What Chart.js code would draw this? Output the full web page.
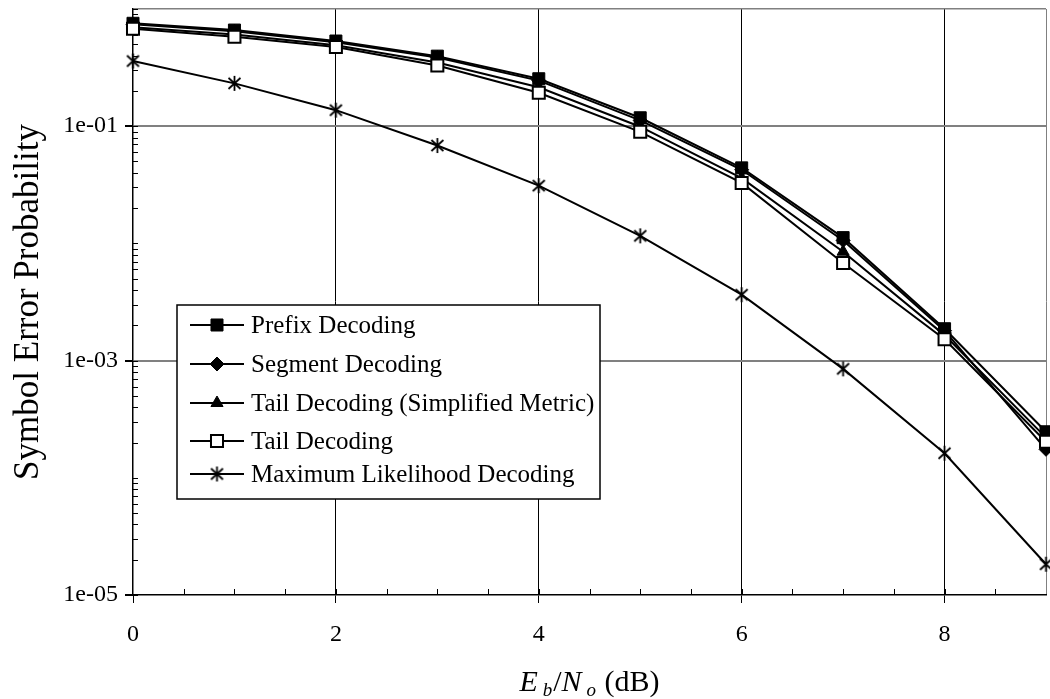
<!DOCTYPE html>
<html>
<head>
<meta charset="utf-8">
<script src="https://cdn.jsdelivr.net/npm/chart.js@4.4.1/dist/chart.umd.min.js"></script>
<style>
  body { margin: 0; background: #fff; }
  #wrap { position: relative; width: 1050px; height: 699px; }
  #xTitle {
    position: absolute; left: 133px; width: 913px; top: 664px;
    text-align: center; font: 30px "Liberation Serif", serif; line-height: 34px; color: #000;
  }
  #xTitle sub { font-size: 19px; vertical-align: -5px; margin-left: 5px; margin-right: 1px; }
</style>
</head>
<body>
<div id="wrap">
  <canvas id="chart" width="1050" height="699"></canvas>
  <div id="xTitle"><i>E</i><sub><i>b</i></sub>/<i>N</i><sub><i>o</i></sub> (dB)</div>
</div>
<script>
// Eb/No in dB
const snr = [0, 1, 2, 3, 4, 5, 6, 7, 8, 9];

// symbol error probability per decoder
const prefixSer = [0.755, 0.661, 0.533, 0.396, 0.254, 0.118, 0.0441, 0.0112, 0.00187, 2.47e-4];
const segmentSer = [0.74, 0.645, 0.52, 0.385, 0.245, 0.112, 0.0425, 0.0106, 0.00180, 1.75e-4];
const tailSimplifiedSer = [0.70, 0.605, 0.49, 0.35, 0.215, 0.099, 0.036, 0.0085, 0.00165, 2.2e-4];
const tailSer = [0.679, 0.581, 0.473, 0.330, 0.193, 0.0895, 0.0328, 0.0068, 0.00152, 2.03e-4];
const mlSer = [0.360, 0.232, 0.137, 0.0684, 0.0311, 0.0116, 0.00365, 8.5e-4, 1.62e-4, 1.83e-5];

const seriesNames = [
  'Prefix Decoding',
  'Segment Decoding',
  'Tail Decoding (Simplified Metric)',
  'Tail Decoding',
  'Maximum Likelihood Decoding'
];

// axis ticks
const xTickLabels = [0, 2, 4, 6, 8];
const yLabelValues = [1e-1, 1e-3, 1e-5];
const yLabelText = ['1e-01', '1e-03', '1e-05'];

const yTickValues = [];
for (let k = -5; k < 0; k++) {
  for (let m = 1; m <= 9; m++) yTickValues.push(m * Math.pow(10, k));
}
yTickValues.push(1);

const near = (a, b) => Math.abs(a / b - 1) < 1e-6;
const isYLabel = v => yLabelValues.some(l => near(v, l));
const isYGrid = v => near(v, 1e-1) || near(v, 1e-3) || near(v, 1);

// six-ray asterisk marker
function makeStar() {
  const c = document.createElement('canvas');
  c.width = 17; c.height = 17;
  const g = c.getContext('2d');
  g.strokeStyle = '#000';
  g.lineWidth = 1.8;
  g.beginPath();
  g.moveTo(8.5, 1); g.lineTo(8.5, 16);
  g.moveTo(2.5, 3); g.lineTo(14.5, 14);
  g.moveTo(14.5, 3); g.lineTo(2.5, 14);
  g.stroke();
  return c;
}
const starMark = makeStar();

Chart.defaults.font.family = '"Liberation Serif", "Times New Roman", serif';
Chart.defaults.color = '#000';

function series(label, values, style, radius, fill, order) {
  return {
    label: label,
    data: values,
    borderColor: '#000',
    borderWidth: 2,
    pointStyle: style,
    pointRadius: radius,
    pointHoverRadius: radius,
    pointBackgroundColor: fill,
    pointBorderColor: '#000',
    pointBorderWidth: fill === '#fff' ? 2 : 1,
    tension: 0,
    fill: false,
    clip: false,
    order: order
  };
}

// short inward ticks along the left and bottom axes
const innerTicks = {
  id: 'innerTicks',
  beforeDatasetsDraw(chart) {
    const { ctx, chartArea, scales } = chart;
    ctx.save();
    ctx.strokeStyle = '#000';
    ctx.lineWidth = 1;
    ctx.beginPath();
    yTickValues.forEach(v => {
      const y = Math.round(scales.y.getPixelForValue(v)) + 0.5;
      ctx.moveTo(chartArea.left, y);
      ctx.lineTo(chartArea.left + 5, y);
    });
    for (let v = 0.5; v < 9; v += 0.5) {
      const x = Math.round(scales.x.getPixelForValue(v)) + 0.5;
      ctx.moveTo(x, chartArea.bottom);
      ctx.lineTo(x, chartArea.bottom - 6);
    }
    ctx.stroke();
    ctx.restore();
  }
};

// boxed legend sitting inside the plot
const boxLegend = {
  id: 'boxLegend',
  afterDatasetsDraw(chart) {
    const ctx = chart.ctx;
    const rows = [325, 364, 403, 441, 474];
    ctx.save();
    ctx.fillStyle = '#fff';
    ctx.fillRect(177, 305, 423, 194);
    ctx.strokeStyle = '#000';
    ctx.lineWidth = 1.5;
    ctx.strokeRect(177, 305, 423, 194);
    ctx.font = '25px "Liberation Serif", serif';
    ctx.textBaseline = 'middle';
    chart.data.datasets.forEach((ds, i) => {
      const y = rows[i];
      ctx.strokeStyle = '#000';
      ctx.lineWidth = 2;
      ctx.beginPath();
      ctx.moveTo(190, y);
      ctx.lineTo(244, y);
      ctx.stroke();
      ctx.fillStyle = ds.pointBackgroundColor;
      ctx.lineWidth = ds.pointBorderWidth;
      Chart.helpers.drawPoint(ctx, {
        pointStyle: ds.pointStyle,
        radius: ds.pointRadius,
        rotation: 0,
        borderWidth: ds.pointBorderWidth
      }, 217, y);
      ctx.fillStyle = '#000';
      ctx.fillText(ds.label, 251, y + 1);
    });
    ctx.restore();
  }
};

new Chart(document.getElementById('chart'), {
  type: 'line',
  data: {
    labels: snr,
    datasets: [
      series(seriesNames[0], prefixSer, 'rect', 8.5, '#000', 3),
      series(seriesNames[1], segmentSer, 'rectRot', 7, '#000', 2),
      series(seriesNames[2], tailSimplifiedSer, 'triangle', 7, '#000', 1),
      series(seriesNames[3], tailSer, 'rect', 8.5, '#fff', 0),
      series(seriesNames[4], mlSer, starMark, 8, '#000', 4)
    ]
  },
  options: {
    responsive: false,
    animation: false,
    layout: { autoPadding: false, padding: { top: 9, right: 4, left: 0, bottom: 0 } },
    plugins: {
      legend: { display: false },
      tooltip: { enabled: false }
    },
    scales: {
      x: {
        type: 'linear',
        min: 0,
        max: 9,
        afterFit: scale => {
          scale.height = 104;
          scale.paddingLeft = 0;
          scale.paddingRight = 0;
        },
        ticks: {
          stepSize: 0.5,
          autoSkip: false,
          maxRotation: 0,
          padding: 17,
          font: { size: 24 },
          callback: v => (xTickLabels.includes(v) ? String(v) : '')
        },
        grid: {
          tickLength: 8,
          lineWidth: 1,
          color: c => (xTickLabels.includes(c.tick.value) && c.tick.value > 0 ? '#000'
            : c.tick.value === 9 ? '#808080' : 'rgba(0,0,0,0)'),
          tickColor: c => (xTickLabels.includes(c.tick.value) ? '#000' : 'rgba(0,0,0,0)')
        },
        border: { color: '#000', width: 1.5 }
      },
      y: {
        type: 'logarithmic',
        min: 1e-5,
        max: 1,
        afterFit: scale => {
          scale.width = 133;
          scale.paddingTop = 0;
          scale.paddingBottom = 0;
        },
        afterBuildTicks: scale => { scale.ticks = yTickValues.map(v => ({ value: v })); },
        ticks: {
          autoSkip: false,
          padding: 7,
          font: { size: 24 },
          callback: v => {
            const i = yLabelValues.findIndex(l => near(v, l));
            return i >= 0 ? yLabelText[i] : '';
          }
        },
        grid: {
          tickLength: 8,
          lineWidth: c => (near(c.tick.value, 1) ? 1.5 : 2),
          color: c => (isYGrid(c.tick.value) ? '#808080' : 'rgba(0,0,0,0)'),
          tickColor: c => (isYLabel(c.tick.value) ? '#000' : 'rgba(0,0,0,0)')
        },
        border: { color: '#000', width: 1.5 },
        title: {
          display: true,
          text: 'Symbol Error Probability',
          font: { size: 35 },
          padding: { top: 8, bottom: 0 }
        }
      }
    }
  },
  plugins: [innerTicks, boxLegend]
});
</script>
</body>
</html>
